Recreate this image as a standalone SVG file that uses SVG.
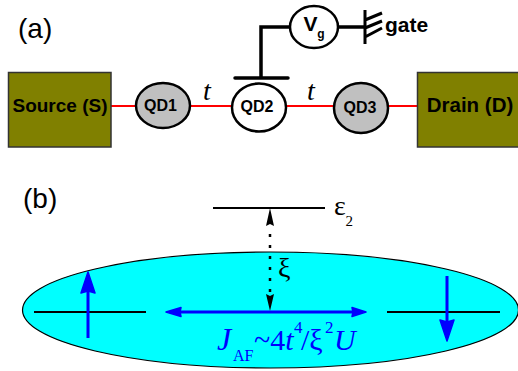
<svg xmlns="http://www.w3.org/2000/svg" width="518" height="371" viewBox="0 0 518 371">
<style>
.b{font-family:"Liberation Sans",Arial,sans-serif;font-weight:700;fill:#000}
.s{font-family:"Liberation Serif","Times New Roman",serif;fill:#000}
.h{font-family:"Liberation Sans",Arial,sans-serif;font-size:28px;fill:#000}
.bl{font-family:"Liberation Serif","Times New Roman",serif;fill:#0000ff}
.lead{fill:#808000;stroke:#333;stroke-width:1.5}
.qd{stroke:#000;stroke-width:2.5}
.red{stroke:#ff0000;stroke-width:2;fill:none}
.k{stroke:#000;fill:none}
.level{stroke:#000;stroke-width:2;fill:none}
.arr{stroke:#0000ff;stroke-width:3;fill:none}
</style>
<rect width="518" height="371" fill="#fff"/>
<g id="connectors">
<path class="red" d="M111 106H136M190 106H232M286 106H334M388 106H417"/>
<path class="k" stroke-width="3.5" d="M290 27H261V78M338 27H365"/>
<path class="k" stroke-width="3.5" stroke-linecap="round" d="M235 78H288"/>
<path class="k" stroke-width="3" d="M365 10V44M365 20L382 13M365 28L382 21M365 37L382 28"/>
</g>
<text class="h" x="18" y="38">(a)</text>
<text class="h" x="23" y="208">(b)</text>
<g id="source"><rect class="lead" x="8.500" y="72.500" width="102.500" height="74.500"/><text class="b" x="60" y="112" font-size="19" text-anchor="middle">Source (S)</text></g>
<g id="drain"><rect class="lead" x="417.500" y="72.500" width="102" height="74.500"/><text class="b" x="470" y="112" font-size="20.500" text-anchor="middle">Drain (D)</text></g>
<g id="qd1"><ellipse class="qd" cx="163" cy="105.500" rx="27" ry="22.500" fill="#c0c0c0"/><text class="b" x="160.500" y="111" font-size="16" text-anchor="middle">QD1</text></g>
<g id="qd2"><ellipse class="qd" cx="259" cy="107.500" rx="27" ry="24" fill="#fff"/><text class="b" x="257" y="112" font-size="16" text-anchor="middle">QD2</text></g>
<g id="qd3"><ellipse class="qd" cx="361" cy="108" rx="27" ry="25" fill="#c0c0c0"/><text class="b" x="360" y="113" font-size="16" text-anchor="middle">QD3</text></g>
<g id="vg"><ellipse class="qd" cx="314" cy="27" rx="24" ry="21" fill="#fff"/><text class="b" x="310.500" y="31" font-size="21" text-anchor="middle">V</text><text class="b" x="321" y="38" font-size="12" text-anchor="middle">g</text></g>
<text class="b" x="385" y="32" font-size="21">gate</text>
<text class="s" x="203" y="100" font-size="28" font-style="italic">t</text>
<text class="s" x="307" y="100" font-size="28" font-style="italic">t</text>
<g id="band"><ellipse cx="270.500" cy="310" rx="248" ry="58" fill="#00ffff" stroke="#000" stroke-width="1.200"/></g>
<path class="level" d="M213 208H325M34 312H146M387 312H500"/>
<text class="s" x="334" y="215" font-size="28">ε</text>
<text class="s" x="345.500" y="226" font-size="15">2</text>
<g id="gap">
<path class="k" stroke-width="2.500" stroke-dasharray="3 8" d="M270 234V292"/>
<path d="M270 208L274 226L270 224L266 226Z M270 311L266 294L270 296L274 294Z" fill="#000"/>
<text class="s" x="278" y="277" font-size="28">ξ</text>
</g>
<g id="arrows">
<path class="arr" d="M88 338V285M447 276V328M175 312H358"/>
<path fill="#0000ff" stroke="#0000ff" stroke-width="1.500" stroke-linejoin="round" d="M88 272L95 293L88 291L81 293Z M447 341L440 320L447 322L454 320Z M166 312L181 307.500L180 312L181 316.500Z M366 312L352 307.500L353 312L352 316.500Z"/>
</g>
<g id="formula">
<text class="bl" font-style="italic" font-size="32" x="217" y="350">J</text>
<text class="bl" font-size="16" x="233" y="361">AF</text>
<text class="bl" font-size="30" x="254" y="350">~4<tspan font-style="italic">t</tspan></text>
<text class="bl" font-size="17" x="294" y="333">4</text>
<text class="bl" font-size="30" x="301" y="350">/ξ</text>
<text class="bl" font-size="17" x="325" y="333">2</text>
<text class="bl" font-size="30" font-style="italic" x="334" y="350">U</text>
</g>
</svg>
